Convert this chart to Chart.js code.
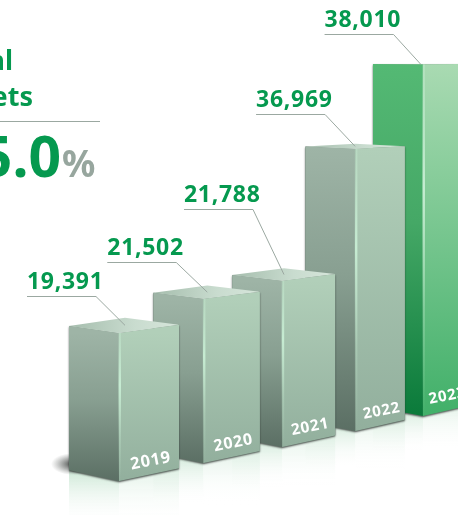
<!DOCTYPE html>
<html><head><meta charset="utf-8">
<style>html,body{margin:0;padding:0;background:#fff;overflow:hidden}canvas{display:block}</style>
<script src="https://cdn.jsdelivr.net/npm/chart.js@4"></script>
</head><body><canvas id="c" width="458" height="515"></canvas>
<script>
// --- data ---
const years = [2019, 2020, 2021, 2022, 2023];
const yearLabels = ['2019', '2020', '2021', '2022', '2023'];
const values = [19391, 21502, 21788, 36969, 38010];
const valueLabels = ['19,391', '21,502', '21,788', '36,969', '38,010'];
// the last bar is drawn taller than the common scale in the source picture
const drawnHeights = [19391, 21502, 21788, 36969, 46100];
// each bar stands further back, so its foot rises on the page (in axis units)
const baseLifts = [0, 2360, 4450, 6550, 8500];
const titleLines = ['Total', 'Assets'];
const growthValue = '5.0';
const growthUnit = '%';

const GREEN = '#05994f', GREY = '#97a69e', RULE = '#9ba8a1';
const HORIZON = 60;
const leaderRises = [29, 30, 66, 32, 30];
const leaderRuns = [29, 31, 31, 30, 27];
const yearFontSizes = [16.5, 16, 15.5, 15, 15];

function geom(el, i) {
  const fx = el.x + 2.8 * i * (4 - i);
  const L = 50, R = 60 - 3.5 * i;
  const top = el.y, bot = el.base;
  const ls = y => (y - HORIZON) * 0.026, rs = y => (y - HORIZON) * 0.03;
  return { fx, L, R, top, bot, ls, rs };
}

class Box3D extends Chart.BarElement {
  draw(ctx, i) {
    const g = geom(this, i);
    const { fx, L, R, top, bot, ls, rs } = g;
    const hi = i === 4;
    const poly = (pts) => { ctx.beginPath(); pts.forEach((p, k) => k ? ctx.lineTo(p[0], p[1]) : ctx.moveTo(p[0], p[1])); ctx.closePath(); };
    const lx = fx - L, rx = fx + R;
    ctx.save();
    // reflection on the floor
    const rh = 44 - i * 2;
    let rg = ctx.createLinearGradient(0, bot - 6, 0, bot + rh);
    rg.addColorStop(0, 'rgba(205,232,214,0.85)'); rg.addColorStop(1, 'rgba(255,255,255,0)');
    ctx.fillStyle = rg;
    poly([[lx, bot - ls(bot)], [fx, bot], [fx, bot + rh], [lx, bot + rh]]); ctx.fill();
    rg = ctx.createLinearGradient(0, bot - 12, 0, bot + rh);
    rg.addColorStop(0, 'rgba(222,240,228,0.85)'); rg.addColorStop(1, 'rgba(255,255,255,0)');
    ctx.fillStyle = rg;
    poly([[fx, bot], [rx, bot - rs(bot)], [rx, bot + rh], [fx, bot + rh]]); ctx.fill();
    // cast shadow to the left of the foot
    ctx.save();
    ctx.translate(lx + 4, bot - ls(bot) - 6);
    ctx.scale(1, 0.5);
    const sg = ctx.createRadialGradient(0, 0, 2, 0, 0, 22);
    sg.addColorStop(0, 'rgba(40,45,42,0.8)'); sg.addColorStop(0.5, 'rgba(70,75,72,0.42)'); sg.addColorStop(1, 'rgba(100,105,102,0)');
    ctx.fillStyle = sg; ctx.beginPath(); ctx.arc(0, 0, 22, 0, Math.PI * 2); ctx.fill();
    ctx.restore();
    // thin dark contact edge
    ctx.save();
    ctx.shadowColor = 'rgba(30,35,32,0.75)'; ctx.shadowBlur = 2; ctx.shadowOffsetY = 1.2;
    ctx.fillStyle = '#5f7367';
    poly([[lx, top - ls(top)], [fx, top], [rx, top - rs(top)], [rx, bot - rs(bot)], [fx, bot], [lx, bot - ls(bot)]]); ctx.fill();
    ctx.restore();
    // left face
    let lg = ctx.createLinearGradient(0, top, 0, bot);
    if (hi) { lg.addColorStop(0, '#54b974'); lg.addColorStop(0.45, '#45a866'); lg.addColorStop(1, '#0a7a3a'); }
    else { lg.addColorStop(0, '#9eb4a6'); lg.addColorStop(0.45, '#889f91'); lg.addColorStop(1, '#5b6f64'); }
    ctx.fillStyle = lg;
    poly([[lx, top - ls(top)], [fx, top], [fx, bot], [lx, bot - ls(bot)]]); ctx.fill();
    // right face
    let rf = ctx.createLinearGradient(0, top, 0, bot);
    if (hi) { rf.addColorStop(0, '#a9dab2'); rf.addColorStop(1, '#41b069'); }
    else { rf.addColorStop(0, '#b1cfb9'); rf.addColorStop(1, '#92af9d'); }
    ctx.fillStyle = rf;
    poly([[fx, top], [rx, top - rs(top)], [rx, bot - rs(bot)], [fx, bot]]); ctx.fill();
    // lit front edge
    const eg = ctx.createLinearGradient(0, top, 0, bot);
    eg.addColorStop(0, 'rgba(200,238,212,0.35)'); eg.addColorStop(0.35, 'rgba(200,238,212,0.95)');
    eg.addColorStop(0.7, 'rgba(200,238,212,0.3)'); eg.addColorStop(1, 'rgba(200,238,212,0)');
    ctx.fillStyle = eg;
    ctx.fillRect(fx - 0.5, top, 2.5, bot - top);
    // top face
    const ax = fx + (R - L) * 0.6, ay = top - ls(top) - rs(top);
    const tg = ctx.createLinearGradient(lx, 0, rx, 0);
    if (hi) { tg.addColorStop(0, '#a9dab2'); tg.addColorStop(1, '#c2e4c9'); }
    else { tg.addColorStop(0, '#a5bdad'); tg.addColorStop(0.6, '#c9dccf'); tg.addColorStop(1, '#d6e5da'); }
    ctx.fillStyle = tg;
    poly([[lx, top - ls(top)], [ax, ay], [rx, top - rs(top)], [fx, top]]); ctx.fill();
    ctx.restore();
  }
}
Box3D.id = 'box3d';
Box3D.defaults = Chart.BarElement.defaults;
Box3D.defaultRoutes = Chart.BarElement.defaultRoutes;

class Bar3DController extends Chart.BarController {
  draw() {
    const els = this._cachedMeta.data;
    for (let i = els.length - 1; i >= 0; i--) els[i].draw(this.chart.ctx, i);
  }
}
Bar3DController.id = 'bar3d';
Bar3DController.defaults = Object.assign({}, Chart.BarController.defaults, { dataElementType: 'box3d' });
Bar3DController.overrides = Chart.BarController.overrides;
Chart.register(Box3D, Bar3DController);

const annotations = {
  id: 'annotations',
  afterDatasetsDraw(chart) {
    const ctx = chart.ctx;
    const els = chart.getDatasetMeta(0).data;
    ctx.save();
    els.forEach((el, i) => {
      const { fx, L, R, top, bot, ls, rs } = geom(el, i);
      // leader line
      const ex = fx + (R - L) * 0.6, ey = top - (ls(top) + rs(top)) / 2;
      const kx = ex - leaderRuns[i], ky = ey - leaderRises[i], sx = kx - 69;
      ctx.strokeStyle = RULE; ctx.lineWidth = 1;
      ctx.beginPath(); ctx.moveTo(sx, Math.round(ky) + 0.5); ctx.lineTo(kx, Math.round(ky) + 0.5); ctx.lineTo(ex, ey); ctx.stroke();
      // value
      ctx.fillStyle = GREEN; ctx.textAlign = 'left'; ctx.textBaseline = 'alphabetic';
      ctx.font = 'bold 23px "Noto Sans"'; ctx.letterSpacing = '0.7px';
      ctx.fillText(valueLabels[i], sx, Math.round(ky) - 7);
      // year on the face
      ctx.save();
      ctx.translate(fx + R * 0.53, bot - 20);
      ctx.rotate(-0.19);
      ctx.fillStyle = '#fff'; ctx.textAlign = 'center'; ctx.textBaseline = 'middle';
      ctx.font = 'bold ' + yearFontSizes[i] + 'px "Noto Sans"'; ctx.letterSpacing = '0.8px';
      ctx.fillText(yearLabels[i], 0, 0);
      ctx.restore();
    });
    // headline, cut by the left edge of the picture as in the source
    ctx.letterSpacing = '0px';
    ctx.fillStyle = GREEN; ctx.textAlign = 'right'; ctx.textBaseline = 'alphabetic';
    ctx.font = 'bold 27px "Noto Sans"';
    ctx.fillText(titleLines[0], 13, 70);
    ctx.fillText(titleLines[1], 33, 106);
    ctx.strokeStyle = RULE; ctx.lineWidth = 1;
    ctx.beginPath(); ctx.moveTo(0, 121.5); ctx.lineTo(100, 121.5); ctx.stroke();
    ctx.font = 'bold 57px "Noto Sans"';
    ctx.fillText(growthValue, 61, 177);
    ctx.fillStyle = GREY; ctx.textAlign = 'left';
    ctx.font = 'bold 37px "Noto Sans"';
    ctx.fillText(growthUnit, 62, 177);
    ctx.restore();
  }
};

new Chart(document.getElementById('c'), {
  type: 'bar3d',
  data: {
    datasets: [{
      label: 'Total assets',
      data: years.map((x, i) => ({ x, y: [baseLifts[i], baseLifts[i] + drawnHeights[i]] })),
      clip: false
    }]
  },
  options: {
    responsive: false, animation: false,
    layout: { padding: 0 },
    scales: {
      x: { type: 'linear', display: false, offset: false, min: 2017.434, max: 2023.461 },
      y: { type: 'linear', display: false, min: -4454, max: 63011 }
    },
    plugins: { legend: { display: false }, tooltip: { enabled: false } }
  },
  plugins: [annotations]
});
</script></body></html>
